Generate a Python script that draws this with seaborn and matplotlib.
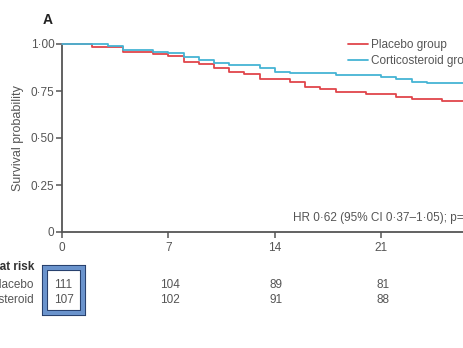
import matplotlib
matplotlib.use("Agg")
import matplotlib.pyplot as plt
import seaborn as sns
import pandas as pd
from matplotlib.patches import Rectangle

sns.set_theme(style="white")
plt.rcParams['font.family'] = ['Liberation Sans Narrow', 'Liberation Sans', 'DejaVu Sans']

# Kaplan-Meier step data (day, survival)
placebo_days = [0, 2, 4, 6, 7, 8, 9, 10, 11, 12, 13, 15, 16, 17, 18, 20, 22, 23, 25, 28]
placebo_surv = [1.0, 0.984, 0.959, 0.947, 0.936, 0.904, 0.894, 0.870, 0.851, 0.840, 0.814,
                0.798, 0.771, 0.761, 0.745, 0.734, 0.718, 0.707, 0.697, 0.697]
cortico_days = [0, 3, 4, 6, 7, 8, 9, 10, 11, 13, 14, 15, 18, 21, 22, 23, 24, 28]
cortico_surv = [1.0, 0.990, 0.968, 0.959, 0.954, 0.929, 0.915, 0.897, 0.887, 0.874, 0.853,
                0.844, 0.833, 0.823, 0.812, 0.800, 0.794, 0.794]

risk_days = [0, 7, 14, 21]
risk_placebo = [111, 104, 89, 81]
risk_cortico = [107, 102, 91, 88]
ytick_vals = [0, 0.25, 0.50, 0.75, 1.00]
ytick_labels = ["0", "0·25", "0·50", "0·75", "1·00"]
xtick_labels = ["0", "7", "14", "21"]

df = pd.concat([
    pd.DataFrame({"day": placebo_days, "surv": placebo_surv, "group": "Placebo group"}),
    pd.DataFrame({"day": cortico_days, "surv": cortico_surv, "group": "Corticosteroid group"}),
])

W, H = 463, 348
fig = plt.figure(figsize=(W / 100, H / 100), dpi=100)
ax = fig.add_axes([62 / W, 1 - 232 / H, (W - 62) / W, 188 / H])

red = "#e0454b"
blue = "#45b4d4"
gray = "#555555"
FS = 8.5

sns.lineplot(data=df, x="day", y="surv", hue="group", drawstyle="steps-post",
             palette={"Placebo group": red, "Corticosteroid group": blue},
             linewidth=1.3, ax=ax, legend=True, zorder=3)

ax.set_xlim(0, (W - 62) / 15.2)
ax.set_ylim(0, 1.0)
ax.set_xticks(risk_days)
ax.set_xticklabels(xtick_labels)
ax.set_yticks(ytick_vals)
ax.set_yticklabels(ytick_labels)
ax.set_xlabel("")
ax.set_ylabel("Survival probability", color=gray, fontsize=9, labelpad=5)
for s in ["top", "right"]:
    ax.spines[s].set_visible(False)
for s in ["left", "bottom"]:
    ax.spines[s].set_color("#555555")
    ax.spines[s].set_linewidth(1.3)
    ax.spines[s].set_clip_on(False)
ax.tick_params(axis="both", direction="out", length=4, width=1.1, color="#555555",
               labelcolor=gray, labelsize=FS, left=True, bottom=True)
ax.tick_params(axis="x", pad=3.5)
ax.tick_params(axis="y", pad=1.5)
ax.patch.set_alpha(0)
for ln in ax.lines:
    ln.set_clip_on(False)

leg = ax.legend(loc="upper left", bbox_to_anchor=(343 / W, 1 - 34 / H),
                bbox_transform=fig.transFigure, frameon=False, fontsize=FS,
                handlelength=1.7, handletextpad=0.3, labelspacing=0.35, borderaxespad=0)
for t in leg.get_texts():
    t.set_color(gray)

def fx(px):
    return px / W

def fy(py):
    return 1 - py / H

fig.text(fx(48), fy(20), "A", fontsize=10, fontweight="bold", color="#222222",
         ha="center", va="center")
fig.text(fx(293), fy(218), "HR 0·62 (95% CI 0·37–1·05); p=0·07", fontsize=FS,
         color=gray, ha="left", va="center")

fig.text(fx(34), fy(267), "Number at risk", fontsize=FS, fontweight="bold",
         color="#333333", ha="right", va="center")
fig.text(fx(34), fy(285), "Placebo", fontsize=FS, color=gray, ha="right", va="center")
fig.text(fx(34), fy(300), "Corticosteroid", fontsize=FS, color=gray, ha="right", va="center")
for d, p, c in zip(risk_days, risk_placebo, risk_cortico):
    xf = ax.transData.transform((d, 0))[0] / fig.bbox.width
    fig.text(xf + 1.5 / W, fy(285), str(p), fontsize=FS, color=gray, ha="center", va="center")
    fig.text(xf + 1.5 / W, fy(300), str(c), fontsize=FS, color=gray, ha="center", va="center")

# highlight box around the day-0 numbers
fig.patches.append(Rectangle((fx(45), fy(313)), 38 / W, 45 / H, transform=fig.transFigure,
                             facecolor="none", edgecolor="#233a66", linewidth=4.4, zorder=5))
fig.patches.append(Rectangle((fx(45), fy(313)), 38 / W, 45 / H, transform=fig.transFigure,
                             facecolor="none", edgecolor="#6a93cc", linewidth=3.0, zorder=6))

fig.savefig("out.png", dpi=100)
